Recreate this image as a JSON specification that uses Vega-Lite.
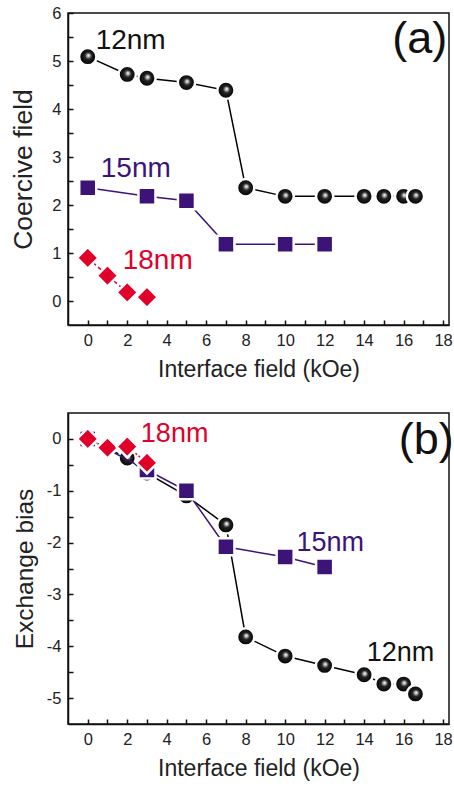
{
  "$schema": "https://vega.github.io/schema/vega-lite/v6.json",
  "padding": {"left": 10, "top": 4, "right": 0, "bottom": 0},
  "spacing": 29,
  "config": {
    "font": "Liberation Sans",
    "view": {"stroke": "#111", "strokeWidth": 1.5},
    "axis": {
      "grid": false,
      "domainColor": "#111",
      "domainWidth": 1.5,
      "tickColor": "#111",
      "tickWidth": 1.5,
      "tickSize": -5,
      "labelFontSize": 16.5,
      "labelColor": "#222",
      "labelPadding": 12,
      "labelFlush": false,
      "labelOverlap": false,
      "titleFontWeight": "normal",
      "titleColor": "#222"
    }
  },
  "datasets": {
    "a": [
      {"series": "12nm", "x": 0, "y": 5.09},
      {"series": "12nm", "x": 2, "y": 4.72},
      {"series": "12nm", "x": 3, "y": 4.64},
      {"series": "12nm", "x": 5, "y": 4.55},
      {"series": "12nm", "x": 7, "y": 4.39},
      {"series": "12nm", "x": 8, "y": 2.36},
      {"series": "12nm", "x": 10, "y": 2.18},
      {"series": "12nm", "x": 12, "y": 2.18},
      {"series": "12nm", "x": 14, "y": 2.18},
      {"series": "12nm", "x": 15, "y": 2.18},
      {"series": "12nm", "x": 16, "y": 2.18},
      {"series": "12nm", "x": 16.6, "y": 2.18},
      {"series": "15nm", "x": 0, "y": 2.36},
      {"series": "15nm", "x": 3, "y": 2.18},
      {"series": "15nm", "x": 5, "y": 2.09},
      {"series": "15nm", "x": 7, "y": 1.18},
      {"series": "15nm", "x": 10, "y": 1.18},
      {"series": "15nm", "x": 12, "y": 1.18},
      {"series": "18nm", "x": 0, "y": 0.9},
      {"series": "18nm", "x": 1, "y": 0.53},
      {"series": "18nm", "x": 2, "y": 0.18},
      {"series": "18nm", "x": 3, "y": 0.08}
    ],
    "b": [
      {"series": "12nm", "x": 0, "y": 0},
      {"series": "12nm", "x": 2, "y": -0.37},
      {"series": "12nm", "x": 3, "y": -0.66},
      {"series": "12nm", "x": 5, "y": -1.1},
      {"series": "12nm", "x": 7, "y": -1.66},
      {"series": "12nm", "x": 8, "y": -3.82},
      {"series": "12nm", "x": 10, "y": -4.19},
      {"series": "12nm", "x": 12, "y": -4.37},
      {"series": "12nm", "x": 14, "y": -4.55},
      {"series": "12nm", "x": 15, "y": -4.73},
      {"series": "12nm", "x": 16, "y": -4.73},
      {"series": "12nm", "x": 16.6, "y": -4.92},
      {"series": "15nm", "x": 0, "y": 0},
      {"series": "15nm", "x": 3, "y": -0.6},
      {"series": "15nm", "x": 5, "y": -1.0},
      {"series": "15nm", "x": 7, "y": -2.08},
      {"series": "15nm", "x": 10, "y": -2.28},
      {"series": "15nm", "x": 12, "y": -2.47},
      {"series": "18nm", "x": 0, "y": 0},
      {"series": "18nm", "x": 1, "y": -0.17},
      {"series": "18nm", "x": 2, "y": -0.15},
      {"series": "18nm", "x": 3, "y": -0.46}
    ]
  },
  "vconcat": [
    {
      "width": 381,
      "height": 312,
      "encoding": {
        "x": {
          "field": "x", "type": "quantitative",
          "scale": {"domain": [-1, 18.3], "nice": false, "zero": false},
          "axis": {
            "title": "Interface field (kOe)",
            "titleFontSize": 23,
            "titlePadding": 10,
            "values": [0,1,2,3,4,5,6,7,8,9,10,11,12,13,14,15,16,17,18],
            "labelExpr": "datum.value % 2 === 0 ? '' + datum.value : ''"
          }
        },
        "y": {
          "field": "y", "type": "quantitative",
          "scale": {"domain": [-0.5, 6], "nice": false, "zero": false},
          "axis": {
            "title": "Coercive field",
            "titleFontSize": 26.5,
            "titlePadding": 14,
            "values": [0,0.5,1,1.5,2,2.5,3,3.5,4,4.5,5,5.5,6],
            "labelExpr": "datum.value % 1 === 0 ? '' + datum.value : ''"
          }
        }
      },
      "layer": [
        {"data": {"name": "a"}, "transform": [{"filter": "datum.series === '12nm'"}],
         "mark": {"type": "line", "color": "#000", "strokeWidth": 1.5}},
        {"data": {"name": "a"}, "transform": [{"filter": "datum.series === '12nm'"}],
         "mark": {"type": "point", "shape": "circle", "filled": true, "opacity": 1, "size": 300,
                  "fill": {"gradient": "radial", "x1": 0.55, "y1": 0.42, "r1": 0, "x2": 0.5, "y2": 0.5, "r2": 0.5,
                           "stops": [{"offset": 0, "color": "#ffffff"}, {"offset": 0.12, "color": "#d0d0d0"}, {"offset": 0.4, "color": "#222222"}, {"offset": 1, "color": "#000000"}]},
                  "stroke": "#ffffff", "strokeWidth": 2.5}},
        {"data": {"name": "a"}, "transform": [{"filter": "datum.series === '15nm'"}],
         "mark": {"type": "line", "color": "#3c1478", "strokeWidth": 1.5}},
        {"data": {"name": "a"}, "transform": [{"filter": "datum.series === '15nm'"}],
         "mark": {"type": "point", "shape": "square", "filled": true, "opacity": 1, "size": 290,
                  "fill": "#3c1478", "stroke": "#ffffff", "strokeWidth": 2.5}},
        {"data": {"name": "a"}, "transform": [{"filter": "datum.series === '18nm'"}],
         "mark": {"type": "line", "color": "#e0002a", "strokeWidth": 1.5, "strokeDash": [4, 3]}},
        {"data": {"name": "a"}, "transform": [{"filter": "datum.series === '18nm'"}],
         "mark": {"type": "point", "shape": "diamond", "filled": true, "opacity": 1, "size": 460,
                  "fill": "#e0002a", "stroke": "#ffffff", "strokeWidth": 2.5}},
        {"data": {"values": [{"x": 0.4, "y": 5.25, "label": "12nm"}]},
         "mark": {"type": "text", "align": "left", "baseline": "alphabetic", "fontSize": 28, "color": "#111"},
         "encoding": {"text": {"field": "label"}}},
        {"data": {"values": [{"x": 0.66, "y": 2.59, "label": "15nm"}]},
         "mark": {"type": "text", "align": "left", "baseline": "alphabetic", "fontSize": 28, "color": "#3c1478"},
         "encoding": {"text": {"field": "label"}}},
        {"data": {"values": [{"x": 1.77, "y": 0.67, "label": "18nm"}]},
         "mark": {"type": "text", "align": "left", "baseline": "alphabetic", "fontSize": 28, "color": "#e0002a"},
         "encoding": {"text": {"field": "label"}}},
        {"data": {"values": [{"x": 15.42, "y": 5.17, "label": "(a)"}]},
         "mark": {"type": "text", "align": "left", "baseline": "alphabetic", "fontSize": 45, "color": "#111"},
         "encoding": {"text": {"field": "label"}}}
      ]
    },
    {
      "width": 381,
      "height": 311,
      "encoding": {
        "x": {
          "field": "x", "type": "quantitative",
          "scale": {"domain": [-1, 18.3], "nice": false, "zero": false},
          "axis": {
            "title": "Interface field (kOe)",
            "titleFontSize": 23,
            "titlePadding": 10,
            "values": [0,1,2,3,4,5,6,7,8,9,10,11,12,13,14,15,16,17,18],
            "labelExpr": "datum.value % 2 === 0 ? '' + datum.value : ''"
          }
        },
        "y": {
          "field": "y", "type": "quantitative",
          "scale": {"domain": [-5.5, 0.5], "nice": false, "zero": false},
          "axis": {
            "title": "Exchange bias",
            "titleFontSize": 24.5,
            "titlePadding": 9,
            "values": [-5,-4.5,-4,-3.5,-3,-2.5,-2,-1.5,-1,-0.5,0],
            "labelExpr": "datum.value % 1 === 0 ? '' + datum.value : ''"
          }
        }
      },
      "layer": [
        {"data": {"name": "b"}, "transform": [{"filter": "datum.series === '12nm'"}],
         "mark": {"type": "line", "color": "#000", "strokeWidth": 1.5}},
        {"data": {"name": "b"}, "transform": [{"filter": "datum.series === '12nm'"}],
         "mark": {"type": "point", "shape": "circle", "filled": true, "opacity": 1, "size": 300,
                  "fill": {"gradient": "radial", "x1": 0.55, "y1": 0.42, "r1": 0, "x2": 0.5, "y2": 0.5, "r2": 0.5,
                           "stops": [{"offset": 0, "color": "#ffffff"}, {"offset": 0.12, "color": "#d0d0d0"}, {"offset": 0.4, "color": "#222222"}, {"offset": 1, "color": "#000000"}]},
                  "stroke": "#ffffff", "strokeWidth": 2.5}},
        {"data": {"name": "b"}, "transform": [{"filter": "datum.series === '15nm'"}],
         "mark": {"type": "line", "color": "#3c1478", "strokeWidth": 1.5}},
        {"data": {"name": "b"}, "transform": [{"filter": "datum.series === '15nm'"}],
         "mark": {"type": "point", "shape": "square", "filled": true, "opacity": 1, "size": 290,
                  "fill": "#3c1478", "stroke": "#ffffff", "strokeWidth": 2.5}},
        {"data": {"name": "b"}, "transform": [{"filter": "datum.series === '18nm'"}],
         "mark": {"type": "line", "color": "#e0002a", "strokeWidth": 1.5, "strokeDash": [2, 2]}},
        {"data": {"name": "b"}, "transform": [{"filter": "datum.series === '18nm'"}],
         "mark": {"type": "point", "shape": "diamond", "filled": true, "opacity": 1, "size": 460,
                  "fill": "#e0002a", "stroke": "#ffffff", "strokeWidth": 2.5}},
        {"data": {"values": [{"x": 2.69, "y": -0.06, "label": "18nm"}]},
         "mark": {"type": "text", "align": "left", "baseline": "alphabetic", "fontSize": 27, "color": "#e0002a"},
         "encoding": {"text": {"field": "label"}}},
        {"data": {"values": [{"x": 10.57, "y": -2.16, "label": "15nm"}]},
         "mark": {"type": "text", "align": "left", "baseline": "alphabetic", "fontSize": 27, "color": "#3c1478"},
         "encoding": {"text": {"field": "label"}}},
        {"data": {"values": [{"x": 14.13, "y": -4.29, "label": "12nm"}]},
         "mark": {"type": "text", "align": "left", "baseline": "alphabetic", "fontSize": 27, "color": "#111"},
         "encoding": {"text": {"field": "label"}}},
        {"data": {"values": [{"x": 15.76, "y": -0.3, "label": "(b)"}]},
         "mark": {"type": "text", "align": "left", "baseline": "alphabetic", "fontSize": 45, "color": "#111"},
         "encoding": {"text": {"field": "label"}}}
      ]
    }
  ]
}
